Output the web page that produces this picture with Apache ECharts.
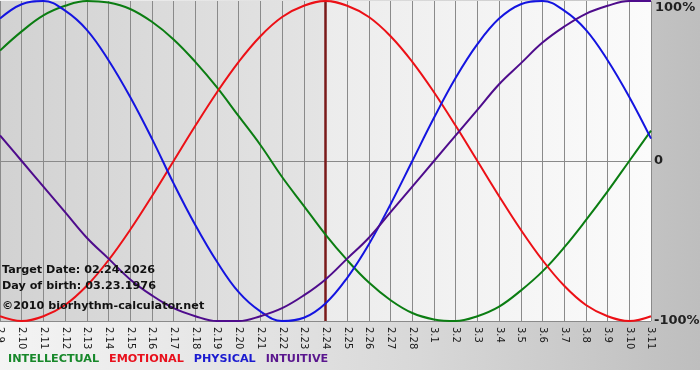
<!DOCTYPE html>
<html>
<head>
<meta charset="utf-8">
<script src="https://cdn.jsdelivr.net/npm/echarts@6/dist/echarts.min.js"></script>
<style>
  html, body { margin: 0; padding: 0; background: #ffffff; }
  #bg { position: absolute; left: 0; top: 0; width: 700px; height: 370px;
        background: linear-gradient(to right, #f4f4f4 0%, #d8d8d8 60%, #bebebe 100%); }
  #chart { position: absolute; left: 0; top: 0; width: 700px; height: 380px; }
</style>
</head>
<body>
<div id="bg"></div>
<div id="chart"></div>
<script>
// Dates shown on the x axis (month.day)
const categories = ['2.9','2.10','2.11','2.12','2.13','2.14','2.15','2.16','2.17','2.18','2.19','2.20','2.21','2.22','2.23','2.24','2.25','2.26','2.27','2.28','3.1','3.2','3.3','3.4','3.5','3.6','3.7','3.8','3.9','3.10','3.11'];
const targetDate = '2.24';

// Values (fraction of 100%)
const intellectual = [0.69,0.81,0.91,0.97,1.00,0.99,0.95,0.87,0.76,0.62,0.46,0.28,0.10,-0.10,-0.28,-0.46,-0.62,-0.76,-0.87,-0.95,-0.99,-1.00,-0.97,-0.91,-0.81,-0.69,-0.54,-0.37,-0.19,0.00,0.19];
const emotional    = [-0.97,-1.00,-0.97,-0.90,-0.78,-0.62,-0.43,-0.22,0.00,0.22,0.43,0.62,0.78,0.90,0.97,1.00,0.97,0.90,0.78,0.62,0.43,0.22,0.00,-0.22,-0.43,-0.62,-0.78,-0.90,-0.97,-1.00,-0.97];
const physical     = [0.89,0.98,1.00,0.94,0.82,0.63,0.40,0.14,-0.14,-0.40,-0.63,-0.82,-0.94,-1.00,-0.98,-0.89,-0.73,-0.52,-0.27,0.00,0.27,0.52,0.73,0.89,0.98,1.00,0.94,0.82,0.63,0.40,0.14];
const intuitive    = [0.16,0.00,-0.16,-0.32,-0.48,-0.61,-0.74,-0.84,-0.92,-0.97,-1.00,-1.00,-0.97,-0.92,-0.84,-0.74,-0.61,-0.48,-0.32,-0.16,0.00,0.16,0.32,0.48,0.61,0.74,0.84,0.92,0.97,1.00,1.00];

const seriesNames = ['INTELLECTUAL','EMOTIONAL','PHYSICAL','INTUITIVE'];
const yTickLabels = { '-1': '-100%', '0': '0', '1': '100%' };
const infoLines = ['Target Date: 02.24.2026', 'Day of birth: 03.23.1976', '\u00A92010 biorhythm-calculator.net'];

const colors = ['#0b7d12', '#ec1016', '#1414e0', '#4e0c8c'];
const legendColors = ['#17882a', '#e8101c', '#1a1ad0', '#5a168e'];
const values = [intellectual, emotional, physical, intuitive];

const chart = echarts.init(document.getElementById('chart'), null, { renderer: 'canvas' });

const lineSeries = seriesNames.map((name, k) => ({
  name: name,
  type: 'line',
  data: values[k],
  smooth: 0.4,
  showSymbol: false,
  symbol: 'none',
  z: 5,
  lineStyle: { color: colors[k], width: 2 },
  itemStyle: { color: colors[k] }
}));

const option = {
  animation: false,
  backgroundColor: 'transparent',
  grid: { left: 0, right: 49, top: 1, bottom: 59, containLabel: false, outerBoundsMode: 'none' },
  legend: {
    left: 3, top: 354, padding: 0,
    icon: 'none', itemWidth: 0, itemHeight: 0, itemGap: 5,
    selectedMode: false,
    data: seriesNames.map((n, k) => ({
      name: n, icon: 'none',
      textStyle: { color: legendColors[k], fontFamily: 'DejaVu Sans', fontWeight: 'bold', fontSize: 11.2 }
    })),
    textStyle: { fontFamily: 'DejaVu Sans', fontWeight: 'bold', fontSize: 11.2 }
  },
  xAxis: {
    type: 'category',
    data: categories,
    boundaryGap: false,
    z: 3,
    axisLine: { show: true, lineStyle: { color: '#8a8a8a', width: 1 } },
    axisTick: { show: true, length: 4, lineStyle: { color: '#8a8a8a' } },
    axisLabel: {
      rotate: -90, interval: 0, margin: 6,
      color: '#1a1a1a', fontFamily: 'DejaVu Sans', fontSize: 10
    },
    splitLine: { show: true, interval: 0, lineStyle: { color: '#8a8a8a', width: 1 } }
  },
  yAxis: {
    type: 'value',
    position: 'right',
    min: -1, max: 1, interval: 1,
    z: 3,
    axisLine: { show: false },
    axisTick: { show: false },
    axisLabel: {
      margin: 3,
      color: '#222', fontFamily: 'DejaVu Sans', fontWeight: 'bold', fontSize: 13,
      formatter: v => v === 1 ? '{t|' + yTickLabels['1'] + '}' : yTickLabels[String(v)],
      rich: { t: { padding: [14, 0, 0, 1], color: '#222', fontFamily: 'DejaVu Sans', fontWeight: 'bold', fontSize: 13 } }
    },
    splitLine: { show: true, lineStyle: { color: ['#8a8a8a', '#8a8a8a', 'transparent'], width: 1 } }
  },
  graphic: infoLines.map((t, k) => ({
    type: 'text',
    left: 2,
    top: [265, 281, 301][k],
    z: 10,
    style: { text: t, fill: '#111', font: 'bold 11.2px "DejaVu Sans"' }
  })),
  series: [
    {
      name: 'bg',
      type: 'line',
      data: [],
      z: 1,
      silent: true,
      markArea: {
        silent: true,
        data: [
          [{ xAxis: categories[0], itemStyle: { color: new echarts.graphic.LinearGradient(0, 0, 1, 0, [{ offset: 0, color: '#d2d2d2' }, { offset: 1, color: '#e4e4e4' }]) } }, { xAxis: targetDate }],
          [{ xAxis: targetDate, itemStyle: { color: new echarts.graphic.LinearGradient(0, 0, 1, 0, [{ offset: 0, color: '#ececec' }, { offset: 1, color: '#fbfbfb' }]) } }, { xAxis: categories[categories.length - 1] }]
        ]
      }
    },
    ...lineSeries,
    {
      name: 'target',
      type: 'line',
      data: [],
      z: 6,
      silent: true,
      markLine: {
        silent: true,
        symbol: ['none', 'none'],
        label: { show: false },
        lineStyle: { color: '#7a1a1a', width: 2.5, type: 'solid' },
        data: [{ xAxis: targetDate }]
      }
    }
  ]
};
chart.setOption(option);
</script>
</body>
</html>
